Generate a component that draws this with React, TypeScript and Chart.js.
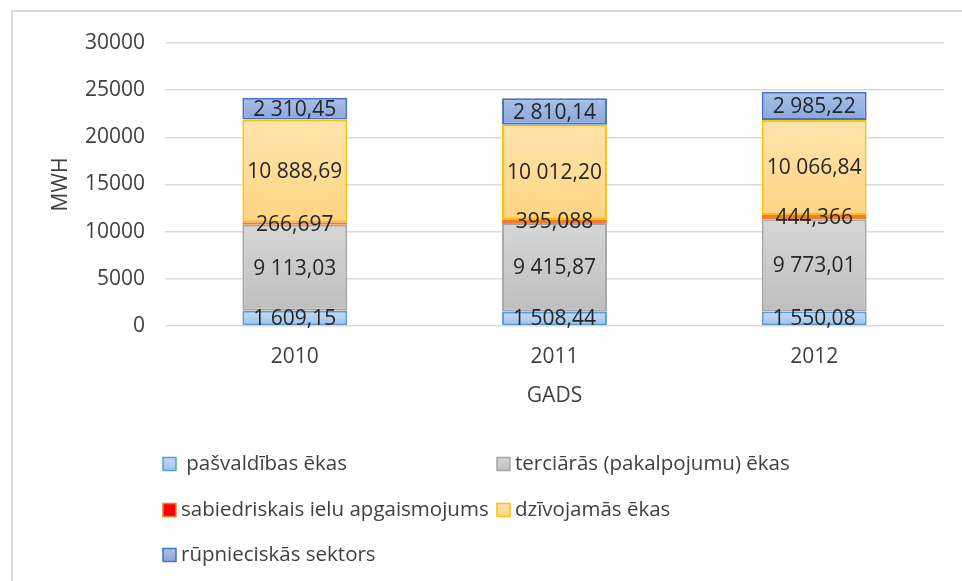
import React, { useEffect, useRef } from "react";
import { Chart, registerables } from "chart.js";

Chart.register(...registerables);

const years = ["2010", "2011", "2012"];
const seriesNames = [
  " pašvaldības ēkas",
  "terciārās (pakalpojumu) ēkas",
  "sabiedriskais ielu apgaismojums",
  "dzīvojamās ēkas",
  "rūpnieciskās sektors",
];
const municipal = [1609.15, 1508.44, 1550.08];
const tertiary = [9113.03, 9415.87, 9773.01];
const streetLighting = [266.697, 395.088, 444.366];
const residential = [10888.69, 10012.2, 10066.84];
const industrial = [2310.45, 2810.14, 2985.22];
const labelDecimals = [2, 2, 3, 2, 2];
const yMin = 0;
const yMax = 30000;
const yStep = 5000;
const yTitle = "MWH";
const xTitle = "GADS";

const FONT = "'Open Sans', sans-serif";

const palette = [
  { top: "#c3daf1", bottom: "#9ec3e8", border: "#5b9bd5" },
  { top: "#d6d6d6", bottom: "#bebebe", border: "#a5a5a5" },
  { top: "#ff0000", bottom: "#ff0000", border: "#ed7d31" },
  { top: "#ffe4ad", bottom: "#ffd483", border: "#ffc000" },
  { top: "#a9bfe8", bottom: "#8aa6dc", border: "#4472c4" },
];

function fmt(v: number, d: number) {
  const [i, dec] = v.toFixed(d).split(".");
  return i.replace(/\B(?=(\d{3})+(?!\d))/g, " ") + "," + dec;
}

function gradientFor(i: number) {
  return (c: any) => {
    const chart = c.chart;
    const y = chart.scales && chart.scales.y;
    const col = palette[i];
    if (c.type !== "data" || !y) return col.bottom;
    const j = c.dataIndex;
    let start = 0;
    for (let k = 0; k < i; k++) start += chart.data.datasets[k].data[j] as number;
    const end = start + (chart.data.datasets[i].data[j] as number);
    const top = y.getPixelForValue(end);
    const bot = y.getPixelForValue(start);
    if (!isFinite(top) || !isFinite(bot) || top === bot) return col.bottom;
    const g = chart.ctx.createLinearGradient(0, top, 0, bot);
    g.addColorStop(0, col.top);
    g.addColorStop(1, col.bottom);
    return g;
  };
}

const framePlugin = {
  id: "frame",
  beforeDraw(chart: any) {
    const ctx = chart.ctx;
    ctx.save();
    ctx.fillStyle = "#ffffff";
    ctx.fillRect(0, 0, chart.width, chart.height);
    ctx.strokeStyle = "#d9d9d9";
    ctx.lineWidth = 2;
    ctx.strokeRect(12, 11, 1200, 1200);
    ctx.restore();
  },
};

const valueLabelPlugin = {
  id: "valueLabels",
  afterDatasetsDraw(chart: any) {
    const ctx = chart.ctx;
    ctx.save();
    ctx.font = `21px ${FONT}`;
    ctx.fillStyle = "#262626";
    ctx.textAlign = "center";
    ctx.textBaseline = "middle";
    chart.data.datasets.forEach((ds: any, i: number) => {
      const meta = chart.getDatasetMeta(i);
      meta.data.forEach((el: any, j: number) => {
        const p = el.getProps(["x", "y", "base"], true);
        ctx.fillText(fmt(ds.data[j], labelDecimals[i]), p.x, (p.y + p.base) / 2 + 1);
      });
    });
    ctx.restore();
  },
};

const legendPlugin = {
  id: "gridLegend",
  afterDraw(chart: any) {
    const ctx = chart.ctx;
    const cols = [163, 497];
    const rows = [464, 510, 555];
    const box = 13;
    ctx.save();
    ctx.font = `20.5px ${FONT}`;
    ctx.textBaseline = "middle";
    ctx.textAlign = "left";
    chart.data.datasets.forEach((ds: any, i: number) => {
      const x = cols[i % 2];
      const y = rows[Math.floor(i / 2)];
      const col = palette[i];
      const g = ctx.createLinearGradient(0, y - box / 2, 0, y + box / 2);
      g.addColorStop(0, col.top);
      g.addColorStop(1, col.bottom);
      ctx.fillStyle = g;
      ctx.fillRect(x, y - box / 2, box, box);
      ctx.strokeStyle = col.border;
      ctx.lineWidth = 1.5;
      ctx.strokeRect(x, y - box / 2, box, box);
      ctx.fillStyle = "#404040";
      ctx.fillText(ds.label, x + box + 5, y);
    });
    ctx.restore();
  },
};

export default function App() {
  const ref = useRef<HTMLCanvasElement | null>(null);

  useEffect(() => {
    if (!ref.current) return;
    const seriesData = [municipal, tertiary, streetLighting, residential, industrial];
    const chart = new Chart(ref.current, {
      type: "bar",
      data: {
        labels: years,
        datasets: seriesData.map((d, i) => ({
          label: seriesNames[i],
          data: d,
          backgroundColor: gradientFor(i),
          borderColor: palette[i].border,
          borderWidth: 2,
          borderSkipped: false,
          categoryPercentage: 1,
          barPercentage: 0.404,
        })),
      },
      options: {
        responsive: false,
        animation: false,
        events: [],
        layout: { padding: { left: 12, top: 43, right: 18, bottom: 155 } },
        plugins: {
          legend: { display: false },
          tooltip: { enabled: false },
          title: { display: false },
        },
        scales: {
          x: {
            stacked: true,
            grid: { display: false, drawTicks: false },
            border: { display: false },
            ticks: { color: "#404040", font: { family: FONT, size: 21 }, padding: 18 },
            title: {
              display: true,
              text: xTitle,
              color: "#404040",
              font: { family: FONT, size: 21 },
              padding: { top: 0, bottom: 17 },
            },
            afterFit(scale: any) {
              scale.height = 100;
            },
          },
          y: {
            stacked: true,
            min: yMin,
            max: yMax,
            ticks: {
              stepSize: yStep,
              color: "#404040",
              font: { family: FONT, size: 21 },
              padding: 20,
              callback: (v: any) => String(v),
            },
            grid: { color: "#d9d9d9", lineWidth: 1.5, drawTicks: false },
            border: { display: false },
            title: {
              display: true,
              text: yTitle,
              color: "#404040",
              font: { family: FONT, size: 21 },
              padding: { top: 36, bottom: 0 },
            },
            afterFit(scale: any) {
              scale.width = 153;
            },
          },
        },
      },
      plugins: [framePlugin, valueLabelPlugin, legendPlugin],
    });
    return () => chart.destroy();
  }, []);

  return (
    <div style={{ position: "fixed", left: 0, top: 0, width: 962, height: 581, background: "#fff" }}>
      <canvas ref={ref} width={962} height={581} style={{ display: "block" }} />
    </div>
  );
}
